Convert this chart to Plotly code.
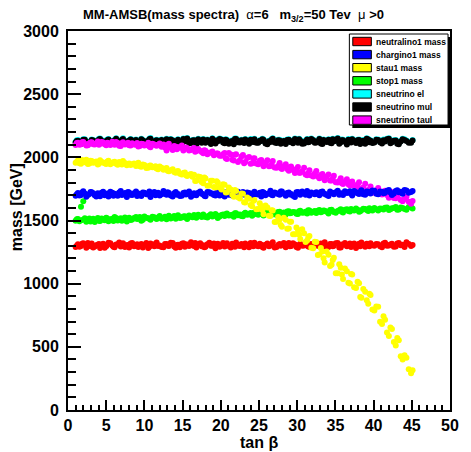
import plotly.graph_objects as go

# tan(beta) values of the parameter scan (two passes, shared by every spectrum)
tan_beta = [
    1.0, 1.3, 1.7, 2.0, 2.4, 2.8, 3.1, 3.5, 3.9, 4.2,
    4.6, 5.0, 5.3, 5.8, 6.1, 6.5, 6.9, 7.2, 7.7, 8.0,
    8.4, 8.9, 9.2, 9.6, 10.0, 10.5, 10.8, 11.3, 11.6, 12.0,
    12.5, 12.9, 13.2, 13.7, 14.1, 14.4, 14.9, 15.3, 15.6, 16.1,
    16.5, 16.8, 17.3, 17.7, 18.0, 18.5, 18.9, 19.3, 19.6, 20.1,
    20.5, 20.8, 21.3, 21.7, 22.0, 22.5, 22.9, 23.2, 23.7, 24.1,
    24.4, 24.9, 25.3, 25.6, 26.1, 26.5, 26.8, 27.3, 27.7, 28.0,
    28.5, 28.9, 29.2, 29.7, 30.1, 30.4, 30.9, 31.3, 31.6, 32.1,
    32.5, 32.9, 33.3, 33.6, 34.1, 34.5, 34.8, 35.3, 35.7, 36.0,
    36.5, 36.9, 37.2, 37.7, 38.1, 38.4, 38.9, 39.3, 39.6, 40.1,
    40.6, 41.1, 41.5, 42.0, 42.4, 42.9, 43.3, 43.8, 44.3, 44.9,
    1.15, 1.5, 1.85, 2.2, 2.6, 2.95, 3.3, 3.7, 4.05, 4.4,
    4.8, 5.15, 5.55, 5.95, 6.3, 6.7, 7.05, 7.45, 7.85, 8.2,
    8.65, 9.05, 9.4, 9.8, 10.25, 10.65, 11.05, 11.45, 11.8, 12.25,
    12.7, 13.05, 13.45, 13.9, 14.25, 14.65, 15.1, 15.45, 15.85, 16.3,
    16.65, 17.05, 17.5, 17.85, 18.25, 18.7, 19.1, 19.45, 19.85, 20.3,
    20.65, 21.05, 21.5, 21.85, 22.25, 22.7, 23.05, 23.45, 23.9, 24.25,
    24.65, 25.1, 25.45, 25.85, 26.3, 26.65, 27.05, 27.5, 27.85, 28.25,
    28.7, 29.05, 29.45, 29.9, 30.25, 30.65, 31.1, 31.45, 31.85, 32.3,
    32.7, 33.1, 33.45, 33.85, 34.3, 34.65, 35.05, 35.5, 35.85, 36.25,
    36.7, 37.05, 37.45, 37.9, 38.25, 38.65, 39.1, 39.45, 39.85, 40.35,
    40.85, 41.3, 41.75, 42.2, 42.65, 43.1, 43.55, 44.05, 44.6, 45.1,
]

m_neutralino1 = [
    1290, 1312, 1298, 1320, 1285, 1306, 1318, 1294, 1309, 1283,
    1315, 1297, 1324, 1302, 1288, 1311, 1295, 1319, 1305, 1286,
    1322, 1300, 1291, 1314, 1307, 1282, 1317, 1296, 1325, 1303,
    1289, 1313, 1299, 1321, 1284, 1308, 1316, 1293, 1310, 1327,
    1298, 1287, 1319, 1305, 1292, 1323, 1301, 1280, 1315, 1308,
    1294, 1320, 1286, 1311, 1326, 1299, 1304, 1317, 1289, 1312,
    1323, 1296, 1308, 1285, 1318, 1302, 1327, 1291, 1314, 1306,
    1288, 1321, 1299, 1310, 1284, 1316, 1303, 1325, 1293, 1311,
    1319, 1297, 1307, 1328, 1290, 1313, 1301, 1322, 1286, 1309,
    1296, 1318, 1305, 1283, 1315, 1326, 1292, 1310, 1320, 1300,
    1312, 1289, 1324, 1303, 1316, 1295, 1321, 1308, 1327, 1299,
    1301, 1293, 1316, 1309, 1322, 1297, 1287, 1304, 1313, 1300,
    1284, 1308, 1319, 1292, 1311, 1325, 1299, 1290, 1306, 1317,
    1296, 1312, 1305, 1287, 1321, 1293, 1309, 1315, 1298, 1290,
    1314, 1302, 1324, 1295, 1306, 1289, 1320, 1311, 1298, 1304,
    1321, 1310, 1296, 1289, 1312, 1301, 1318, 1306, 1293, 1322,
    1307, 1298, 1316, 1293, 1303, 1314, 1289, 1300, 1322, 1296,
    1302, 1315, 1291, 1309, 1297, 1312, 1286, 1306, 1300, 1321,
    1312, 1297, 1319, 1290, 1307, 1301, 1322, 1294, 1313, 1299,
    1304, 1318, 1292, 1301, 1314, 1296, 1320, 1287, 1311, 1322,
    1309, 1291, 1317, 1304, 1296, 1308, 1315, 1297, 1305, 1314,
    1296, 1318, 1301, 1310, 1292, 1317, 1305, 1291, 1313, 1306,
]

m_chargino1 = [
    1695, 1718, 1702, 1731, 1688, 1710, 1724, 1699, 1715, 1692,
    1727, 1705, 1690, 1720, 1712, 1696, 1733, 1708, 1686, 1722,
    1701, 1729, 1714, 1693, 1719, 1706, 1686, 1725, 1711, 1698,
    1734, 1703, 1717, 1690, 1726, 1709, 1695, 1721, 1712, 1688,
    1716, 1700, 1730, 1707, 1691, 1723, 1713, 1697, 1728, 1704,
    1689, 1719, 1708, 1732, 1696, 1714, 1725, 1702, 1718, 1693,
    1727, 1706, 1690, 1721, 1711, 1735, 1699, 1716, 1704, 1729,
    1695, 1722, 1710, 1687, 1726, 1703, 1718, 1733, 1698, 1713,
    1724, 1700, 1729, 1712, 1694, 1720, 1707, 1736, 1716, 1701,
    1717, 1731, 1697, 1723, 1709, 1740, 1704, 1727, 1714, 1735,
    1708, 1728, 1719, 1741, 1702, 1733, 1723, 1711, 1738, 1726,
    1708, 1697, 1722, 1713, 1701, 1726, 1716, 1690, 1705, 1719,
    1700, 1714, 1728, 1695, 1706, 1722, 1701, 1717, 1725, 1704,
    1716, 1694, 1703, 1721, 1708, 1730, 1713, 1699, 1720, 1707,
    1712, 1724, 1698, 1715, 1703, 1693, 1718, 1705, 1729, 1700,
    1705, 1720, 1711, 1695, 1725, 1714, 1702, 1719, 1698, 1716,
    1724, 1703, 1697, 1713, 1728, 1705, 1711, 1722, 1700, 1716,
    1708, 1719, 1726, 1700, 1714, 1703, 1721, 1709, 1730, 1712,
    1718, 1705, 1696, 1724, 1711, 1729, 1703, 1715, 1722, 1707,
    1710, 1726, 1713, 1701, 1730, 1718, 1724, 1704, 1712, 1731,
    1724, 1711, 1733, 1716, 1725, 1708, 1729, 1719, 1738, 1712,
    1730, 1716, 1735, 1722, 1713, 1739, 1728, 1742, 1719, 1733,
]

m_stau1 = [
    1958, 1975, 1949, 1968, 1980, 1952, 1971, 1962, 1944, 1977,
    1960, 1948, 1972, 1955, 1966, 1941, 1958, 1970, 1937, 1952,
    1946, 1932, 1958, 1925, 1940, 1918, 1935, 1922, 1911, 1928,
    1902, 1915, 1889, 1905, 1878, 1892, 1865, 1880, 1852, 1868,
    1862, 1815, 1844, 1795, 1832, 1778, 1814, 1762, 1800, 1745,
    1783, 1724, 1745, 1688, 1733, 1674, 1711, 1643, 1673, 1612,
    1663, 1592, 1612, 1550, 1602, 1536, 1579, 1490, 1508, 1450,
    1506, 1436, 1490, 1392, 1425, 1354, 1400, 1342, 1378, 1280,
    1330, 1230, 1255, 1168, 1228, 1150, 1206, 1083, 1126, 1037,
    1098, 1001, 1073, 965, 1003, 889, 937, 841, 911, 787,
    817, 681, 715, 585, 641, 511, 552, 399, 414, 291,
    1966, 1954, 1979, 1961, 1947, 1972, 1957, 1968, 1950, 1963,
    1954, 1967, 1945, 1961, 1950, 1963, 1944, 1956, 1948, 1939,
    1951, 1938, 1929, 1944, 1916, 1933, 1921, 1930, 1905, 1917,
    1909, 1893, 1898, 1884, 1887, 1871, 1876, 1858, 1862, 1847,
    1812, 1849, 1805, 1841, 1775, 1814, 1766, 1811, 1761, 1786,
    1722, 1762, 1703, 1742, 1684, 1713, 1644, 1683, 1622, 1654,
    1590, 1636, 1584, 1619, 1537, 1581, 1489, 1528, 1464, 1521,
    1434, 1491, 1391, 1445, 1389, 1430, 1329, 1367, 1285, 1332,
    1227, 1282, 1201, 1254, 1139, 1188, 1082, 1154, 1072, 1121,
    1007, 1077, 971, 1016, 894, 958, 869, 921, 795, 820,
    699, 743, 613, 653, 539, 569, 425, 434, 323, 314,
]

m_stop1 = [
    1498, 1512, 1608, 1652, 1490, 1515, 1502, 1488, 1519, 1496,
    1509, 1522, 1494, 1514, 1527, 1500, 1518, 1505, 1492, 1521,
    1508, 1528, 1515, 1499, 1532, 1517, 1506, 1525, 1512, 1535,
    1520, 1509, 1538, 1526, 1514, 1541, 1523, 1533, 1511, 1529,
    1544, 1521, 1536, 1548, 1527, 1540, 1531, 1552, 1519, 1543,
    1536, 1555, 1541, 1529, 1558, 1547, 1533, 1561, 1550, 1538,
    1564, 1545, 1556, 1540, 1568, 1552, 1559, 1543, 1570, 1557,
    1548, 1574, 1560, 1566, 1551, 1577, 1563, 1555, 1580, 1569,
    1560, 1583, 1571, 1577, 1556, 1586, 1568, 1575, 1590, 1564,
    1589, 1572, 1584, 1595, 1569, 1581, 1592, 1576, 1587, 1598,
    1579, 1593, 1601, 1584, 1596, 1607, 1588, 1599, 1585, 1604,
    1510, 1495, 1503, 1517, 1500, 1492, 1513, 1506, 1498, 1515,
    1502, 1516, 1507, 1497, 1520, 1511, 1499, 1524, 1510, 1503,
    1519, 1511, 1527, 1505, 1522, 1514, 1530, 1518, 1524, 1513,
    1530, 1522, 1516, 1535, 1528, 1519, 1532, 1521, 1540, 1526,
    1532, 1545, 1528, 1538, 1524, 1549, 1537, 1541, 1531, 1547,
    1550, 1539, 1546, 1557, 1542, 1535, 1553, 1545, 1559, 1548,
    1551, 1562, 1548, 1566, 1555, 1545, 1561, 1567, 1553, 1564,
    1571, 1557, 1567, 1554, 1573, 1562, 1570, 1582, 1561, 1575,
    1578, 1566, 1580, 1569, 1584, 1574, 1562, 1581, 1570, 1585,
    1576, 1591, 1579, 1586, 1574, 1593, 1583, 1597, 1580, 1589,
    1595, 1587, 1603, 1590, 1598, 1586, 1602, 1592, 1606, 1594,
]

m_sneutrino_el = [
    2123, 2137, 2111, 2144, 2128, 2114, 2142, 2130, 2119, 2149,
    2133, 2113, 2145, 2126, 2138, 2109, 2129, 2151, 2120, 2136,
    2111, 2142, 2127, 2147, 2118, 2133, 2153, 2122, 2139, 2108,
    2131, 2148, 2116, 2137, 2124, 2144, 2112, 2131, 2154, 2119,
    2140, 2107, 2128, 2146, 2121, 2135, 2151, 2115, 2132, 2144,
    2116, 2139, 2128, 2110, 2149, 2123, 2136, 2145, 2113, 2130,
    2147, 2120, 2134, 2141, 2109, 2127, 2152, 2118, 2139, 2124,
    2111, 2143, 2132, 2150, 2121, 2137, 2114, 2146, 2129, 2140,
    2123, 2149, 2112, 2135, 2144, 2118, 2132, 2153, 2124, 2139,
    2108, 2134, 2148, 2119, 2141, 2128, 2113, 2145, 2136, 2122,
    2142, 2116, 2131, 2151, 2125, 2138, 2110, 2147, 2134, 2120,
    2135, 2119, 2131, 2143, 2114, 2126, 2138, 2121, 2147, 2129,
    2116, 2141, 2127, 2133, 2152, 2121, 2142, 2111, 2132, 2145,
    2137, 2124, 2114, 2138, 2130, 2148, 2118, 2135, 2126, 2142,
    2122, 2135, 2145, 2110, 2133, 2127, 2150, 2140, 2117, 2138,
    2129, 2147, 2121, 2134, 2142, 2112, 2126, 2139, 2150, 2123,
    2144, 2114, 2135, 2149, 2124, 2140, 2119, 2131, 2145, 2125,
    2121, 2136, 2148, 2115, 2132, 2145, 2123, 2140, 2113, 2134,
    2142, 2126, 2118, 2136, 2147, 2113, 2133, 2124, 2150, 2121,
    2132, 2116, 2142, 2127, 2120, 2148, 2136, 2114, 2141, 2129,
    2145, 2123, 2132, 2140, 2112, 2137, 2151, 2125, 2118, 2144,
    2124, 2141, 2148, 2117, 2136, 2114, 2130, 2143, 2121, 2138,
]

m_sneutrino_mul = [
    2118, 2132, 2105, 2140, 2122, 2110, 2137, 2126, 2113, 2145,
    2128, 2108, 2141, 2120, 2134, 2103, 2125, 2146, 2115, 2131,
    2106, 2138, 2121, 2143, 2112, 2129, 2148, 2117, 2135, 2102,
    2126, 2144, 2110, 2133, 2119, 2139, 2107, 2127, 2149, 2114,
    2136, 2101, 2123, 2142, 2116, 2130, 2147, 2109, 2128, 2139,
    2111, 2134, 2124, 2104, 2145, 2118, 2131, 2141, 2107, 2126,
    2143, 2115, 2129, 2137, 2103, 2122, 2148, 2113, 2134, 2120,
    2105, 2139, 2127, 2146, 2116, 2132, 2109, 2142, 2124, 2136,
    2118, 2145, 2106, 2130, 2140, 2112, 2127, 2149, 2119, 2135,
    2102, 2129, 2144, 2114, 2137, 2123, 2108, 2141, 2131, 2117,
    2138, 2110, 2126, 2147, 2120, 2134, 2104, 2143, 2129, 2115,
    2130, 2114, 2126, 2139, 2108, 2121, 2133, 2117, 2142, 2124,
    2111, 2136, 2122, 2129, 2147, 2116, 2138, 2105, 2127, 2141,
    2132, 2119, 2109, 2134, 2125, 2143, 2113, 2131, 2120, 2137,
    2117, 2130, 2141, 2104, 2128, 2122, 2146, 2135, 2112, 2133,
    2124, 2143, 2115, 2129, 2138, 2106, 2121, 2134, 2146, 2118,
    2139, 2108, 2130, 2145, 2119, 2136, 2113, 2126, 2140, 2121,
    2116, 2131, 2144, 2109, 2127, 2140, 2118, 2135, 2107, 2129,
    2137, 2121, 2112, 2131, 2143, 2107, 2128, 2119, 2145, 2116,
    2127, 2110, 2138, 2122, 2115, 2143, 2131, 2108, 2136, 2124,
    2140, 2118, 2127, 2135, 2106, 2132, 2147, 2120, 2113, 2139,
    2119, 2136, 2143, 2112, 2131, 2108, 2125, 2138, 2116, 2133,
]

m_sneutrino_taul = [
    2098, 2115, 2104, 2122, 2093, 2111, 2119, 2101, 2126, 2108,
    2117, 2095, 2110, 2124, 2100, 2113, 2089, 2120, 2106, 2096,
    2112, 2099, 2085, 2107, 2093, 2116, 2080, 2102, 2091, 2110,
    2101, 2055, 2108, 2058, 2083, 2080, 2094, 2068, 2072, 2058,
    2073, 2051, 2053, 2032, 2053, 2037, 2046, 2025, 2030, 2013,
    2034, 1987, 2022, 1975, 2024, 1976, 2018, 1964, 2002, 1954,
    1993, 1945, 1979, 1930, 1976, 1932, 1971, 1918, 1956, 1908,
    1945, 1893, 1927, 1876, 1923, 1877, 1917, 1859, 1897, 1848,
    1891, 1835, 1868, 1819, 1864, 1816, 1854, 1800, 1834, 1788,
    1826, 1777, 1808, 1758, 1802, 1752, 1791, 1735, 1769, 1720,
    1757, 1705, 1736, 1680, 1726, 1676, 1712, 1653, 1688, 1632,
    2113, 2100, 2120, 2107, 2096, 2118, 2104, 2112, 2099, 2121,
    2103, 2116, 2098, 2108, 2121, 2092, 2111, 2102, 2115, 2094,
    2101, 2114, 2090, 2105, 2097, 2086, 2108, 2095, 2100, 2084,
    2078, 2097, 2075, 2089, 2064, 2075, 2055, 2077, 2055, 2067,
    2045, 2066, 2043, 2057, 2024, 2038, 2016, 2030, 2013, 2025,
    1993, 2034, 1981, 2021, 1964, 2006, 1954, 1995, 1950, 1990,
    1952, 1972, 1950, 1960, 1930, 1944, 1920, 1931, 1915, 1929,
    1907, 1921, 1899, 1908, 1877, 1890, 1864, 1874, 1856, 1872,
    1848, 1861, 1838, 1848, 1816, 1828, 1802, 1813, 1794, 1807,
    1786, 1801, 1774, 1785, 1752, 1762, 1737, 1746, 1728, 1739,
    1715, 1726, 1702, 1710, 1679, 1688, 1662, 1670, 1649, 1655,
]

labels = ["neutralino1 mass", "chargino1 mass", "stau1 mass", "stop1 mass",
          "sneutrino el", "sneutrino mul", "sneutrino taul"]
masses = [m_neutralino1, m_chargino1, m_stau1, m_stop1,
          m_sneutrino_el, m_sneutrino_mul, m_sneutrino_taul]
colors = ["#ff0000", "#0000ff", "#ffff00", "#00ff00",
          "#00ffff", "#000000", "#ff00ff"]

for name, m in zip(labels, masses):
    if len(m) != len(tan_beta):
        raise ValueError(f"{name}: {len(m)} values for {len(tan_beta)} scan points")

x_ticks = list(range(0, 51, 5))
y_ticks = list(range(0, 3001, 500))

FONT = "Liberation Sans, Arial, Helvetica, sans-serif"

# page geometry (pixels) of the frame
W, H = 471, 452
FL, FR, FT, FB = 68, 459, 31, 410


def px(x):
    return (x - FL) / (FR - FL)


def py(y):
    return (FB - y) / (FB - FT)


fig = go.Figure()

# drawing order of the spectra (later ones on top)
order = [0, 3, 4, 5, 6, 1, 2]
for i in order:
    fig.add_trace(go.Scatter(
        x=tan_beta, y=masses[i], mode="markers", name=labels[i],
        marker=dict(color=colors[i], size=6, line=dict(width=0)),
        showlegend=False, hoverinfo="x+y+name",
    ))

axis_common = dict(
    showgrid=False, zeroline=False, showline=True, linecolor="black",
    linewidth=2, mirror=True, ticks="inside", tickcolor="black",
    tickwidth=1.5, tickfont=dict(family=FONT, size=16, color="black",
                                 weight="bold"),
)

fig.update_xaxes(range=[0, 50], tickvals=x_ticks, ticklen=10,
                 minor=dict(ticks="inside", dtick=1, ticklen=5,
                            tickcolor="black", tickwidth=1.5),
                 **axis_common)
fig.update_yaxes(range=[0, 3000], tickvals=y_ticks, ticklen=13,
                 ticklabelstandoff=4,
                 minor=dict(ticks="inside", dtick=100, ticklen=8,
                            tickcolor="black", tickwidth=1.5),
                 **axis_common)

shapes = []
annotations = []

# legend box with drop shadow
shapes.append(dict(type="rect", xref="paper", yref="paper",
                   x0=px(359), x1=px(460), y0=py(128), y1=py(37),
                   fillcolor="black", line=dict(width=0), layer="above"))
shapes.append(dict(type="rect", xref="paper", yref="paper",
                   x0=px(356), x1=px(457), y0=py(125), y1=py(34),
                   fillcolor="white", line=dict(color="black", width=1),
                   layer="above"))
for k, (name, col) in enumerate(zip(labels, colors)):
    cy = 41.5 + 13.1 * k
    shapes.append(dict(type="rect", xref="paper", yref="paper",
                       x0=px(359.5), x1=px(378.5),
                       y0=py(cy + 4.2), y1=py(cy - 4.2),
                       fillcolor=col, line=dict(color="black", width=1),
                       layer="above"))
    annotations.append(dict(xref="paper", yref="paper", x=px(381), y=py(cy),
                            xanchor="left", yanchor="middle", showarrow=False,
                            text=name,
                            font=dict(family=FONT, size=8.5, color="black",
                                      weight="bold")))

nb = "\u00a0"
title_text = ("<b>MM-AMSB(mass spectra)</b>" + nb * 2 + "α<b>=6</b>" + nb * 3
              + "<b>m<sub>3/2</sub>=50 Tev</b>" + nb * 2 + "μ<b>" + nb + ">0</b>")
annotations.append(dict(xref="paper", yref="paper", x=px(237), y=py(15),
                        xanchor="center", yanchor="middle", showarrow=False,
                        text=title_text,
                        font=dict(family=FONT, size=13, color="black")))
annotations.append(dict(xref="paper", yref="paper", x=px(263), y=py(442),
                        xanchor="center", yanchor="middle", showarrow=False,
                        text="<b>tan β</b>",
                        font=dict(family=FONT, size=16, color="black")))
annotations.append(dict(xref="paper", yref="paper", x=px(15), y=py(207),
                        xanchor="center", yanchor="middle", showarrow=False,
                        textangle=-90, text="<b>mass [GeV]</b>",
                        font=dict(family=FONT, size=16, color="black")))

fig.update_layout(
    width=W, height=H,
    margin=dict(l=FL, r=W - FR, t=FT, b=H - FB, pad=0),
    plot_bgcolor="white", paper_bgcolor="white",
    shapes=shapes, annotations=annotations,
    showlegend=False,
)

fig.write_html("out.html")
